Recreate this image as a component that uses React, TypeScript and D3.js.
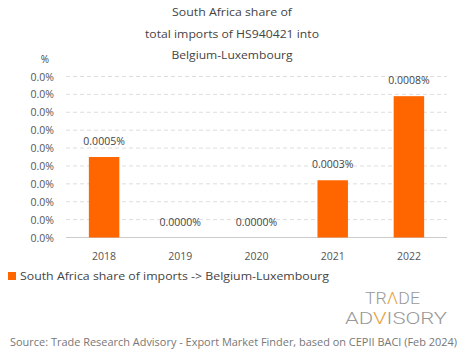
import React from "react";
import * as d3 from "d3";

const years = ["2018", "2019", "2020", "2021", "2022"];
const shares = [0.00045, 0, 0, 0.00032, 0.00079];
const valueLabels = ["0.0005%", "0.0000%", "0.0000%", "0.0003%", "0.0008%"];
const yTicks = [0, 0.0001, 0.0002, 0.0003, 0.0004, 0.0005, 0.0006, 0.0007, 0.0008, 0.0009];
const yTickLabels = ["0.0%", "0.0%", "0.0%", "0.0%", "0.0%", "0.0%", "0.0%", "0.0%", "0.0%", "0.0%"];
const titleLines = ["South Africa share of", "total imports of HS940421 into", "Belgium-Luxembourg"];
const titleWidths = [120, 174, 121];
const legendLabel = "South Africa share of imports -> Belgium-Luxembourg";
const sourceText = "Source: Trade Research Advisory - Export Market Finder, based on CEPII BACI (Feb 2024)";

const W = 465, H = 359;
const font = "'Open Sans', sans-serif";

export default function App() {
  const x = d3.scaleBand<string>().domain(years).range([66, 447]).paddingInner(0.6).paddingOuter(0.3);
  const y = d3.scaleLinear().domain([0, 0.0009]).range([237.5, 76.5]);
  const base = y(0);
  return (
    <svg width={W} height={H} style={{ position: "absolute", left: 0, top: 0, background: "#fff" }} fontFamily={font}>
      {titleLines.map((t, i) => (
        <text key={i} x={232} y={16 + i * 21.5} textAnchor="middle" fontSize={11} fill="#444" textLength={titleWidths[i]} lengthAdjust="spacingAndGlyphs">{t}</text>
      ))}
      <text x={45} y={63} textAnchor="middle" fontSize={10} fill="#444">%</text>
      {yTicks.map((t, i) => (
        <g key={i}>
          <line x1={66} x2={447} y1={y(t)} y2={y(t)} stroke={t === 0 ? "#ccc" : "#ddd"} strokeDasharray={t === 0 ? undefined : "4,3"} />
          <text x={54} y={y(t) + 4} textAnchor="end" fontSize={10.5} fill="#555">{yTickLabels[i]}</text>
        </g>
      ))}
      {years.map((yr, i) => (
        <g key={yr}>
          {shares[i] > 0 && (
            <rect x={x(yr)} y={y(shares[i])} width={x.bandwidth()} height={base - y(shares[i])} fill="#FF6600" />
          )}
          <text x={(x(yr) as number) + x.bandwidth() / 2} y={y(shares[i]) - 12} textAnchor="middle" fontSize={10.5} fill="#444">{valueLabels[i]}</text>
          <text x={(x(yr) as number) + x.bandwidth() / 2} y={260} textAnchor="middle" fontSize={10.5} fill="#555">{yr}</text>
        </g>
      ))}
      <rect x={8} y={272} width={8} height={8} fill="#FF6600" />
      <text x={20} y={280} fontSize={10.5} fill="#444" textLength={309} lengthAdjust="spacingAndGlyphs">{legendLabel}</text>
      <g fontFamily="Roboto, sans-serif" fill="#999" fontWeight={300} fontSize={16}>
        <text x={365} y={304} textLength={55} lengthAdjust="spacingAndGlyphs">TR<tspan fill="#E8A33A">Λ</tspan>DE</text>
        <text x={345} y={324} textLength={102} lengthAdjust="spacingAndGlyphs">AD<tspan fill="#E8A33A">V</tspan>ISORY</text>
      </g>
      <text x={10} y={346} fontSize={10.5} fill="#777" textLength={447} lengthAdjust="spacingAndGlyphs">{sourceText}</text>
    </svg>
  );
}
